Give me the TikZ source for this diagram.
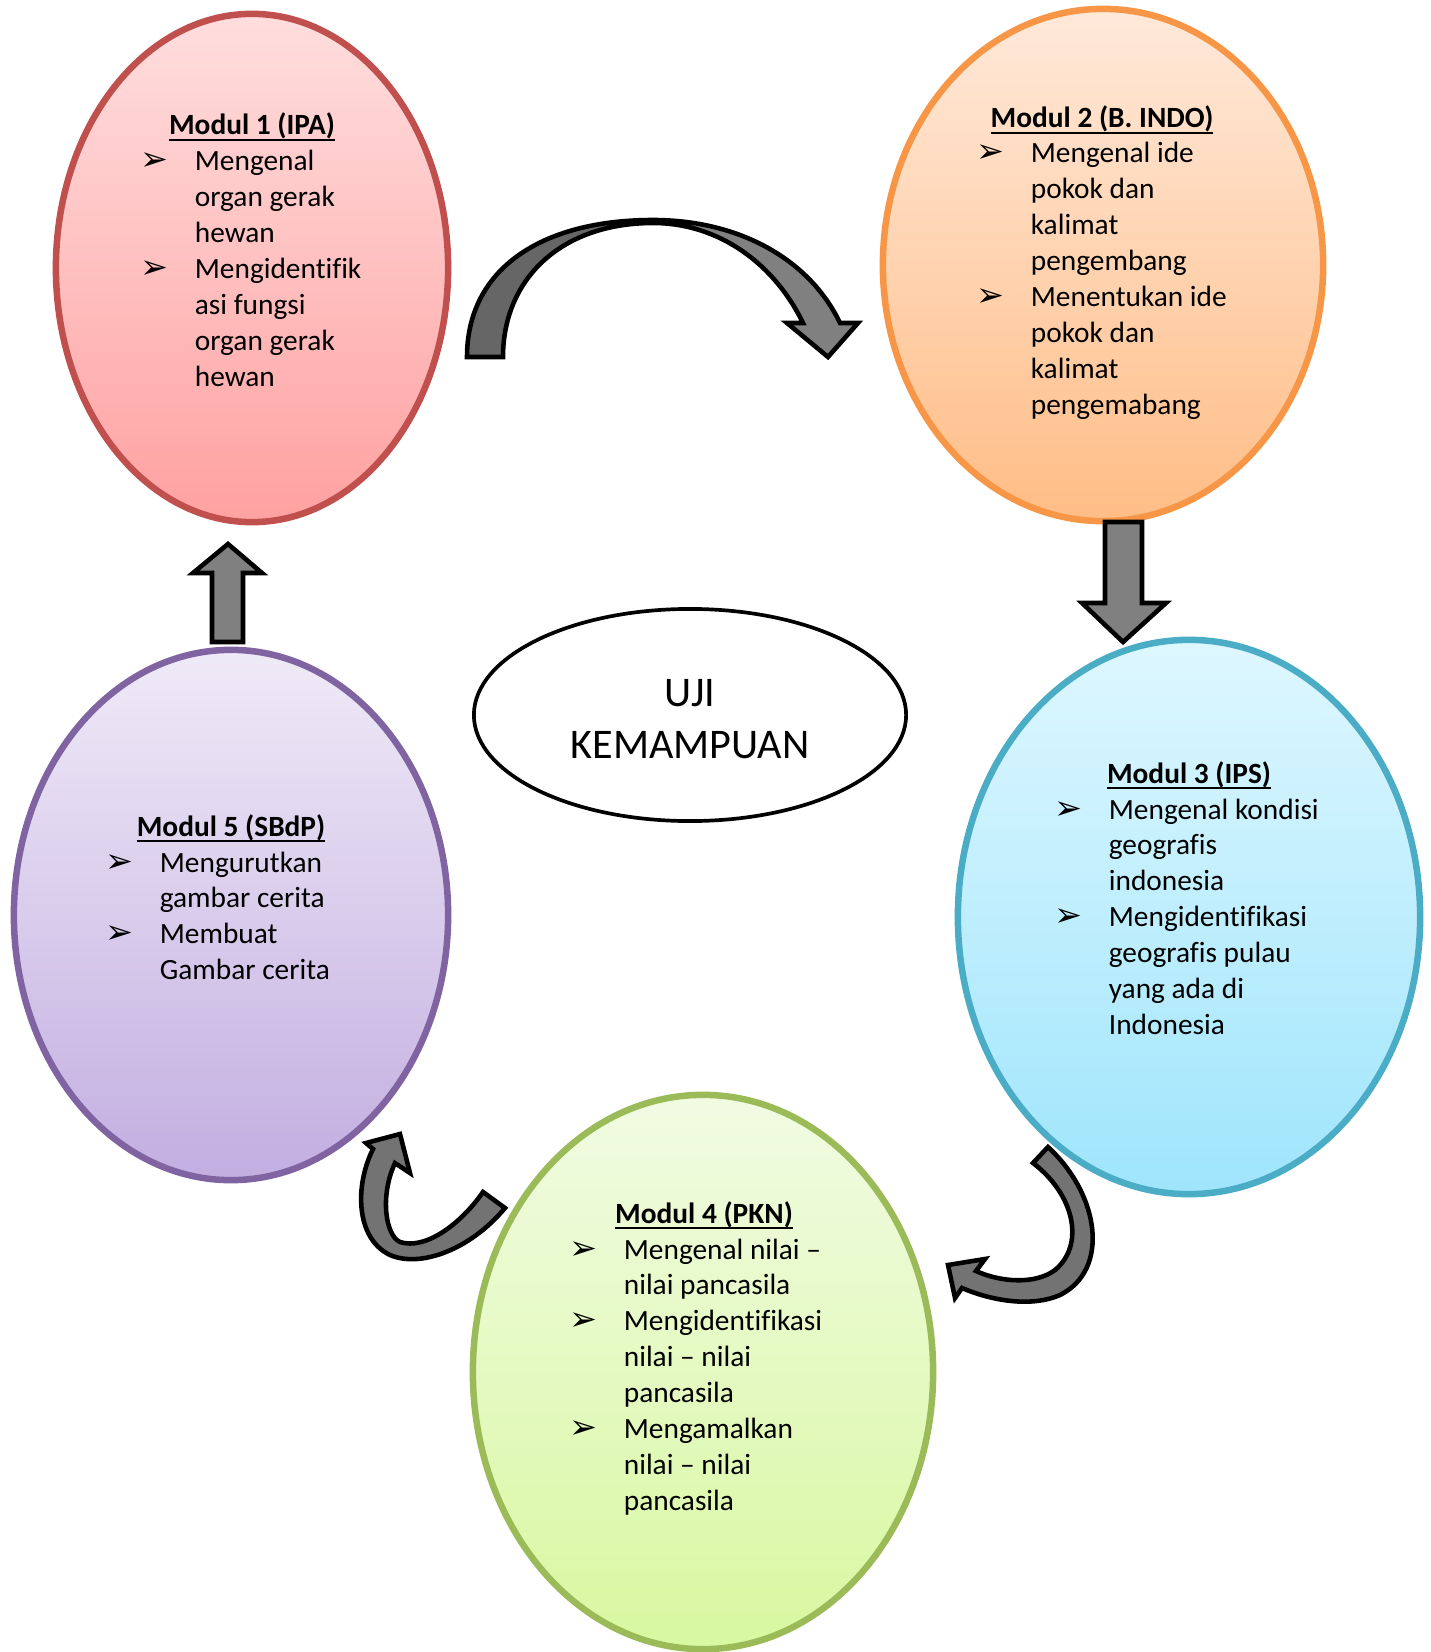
\documentclass[tikz,border=0pt]{standalone}
\usepackage{fontspec}
\setmainfont{Carlito}[Ligatures=NoCommon]
\newfontfamily\dingfont{DejaVu Sans}
\usetikzlibrary{shapes.geometric}

\definecolor{redline}{HTML}{C0504D}
\definecolor{redtop}{HTML}{FFDEDE}
\definecolor{redbot}{HTML}{FFA1A1}
\definecolor{orgline}{HTML}{F79646}
\definecolor{orgtop}{HTML}{FFE9DA}
\definecolor{orgbot}{HTML}{FFBD86}
\definecolor{bluline}{HTML}{4BACC6}
\definecolor{blutop}{HTML}{DEF7FF}
\definecolor{blubot}{HTML}{9FE5FC}
\definecolor{grnline}{HTML}{9BBB59}
\definecolor{grntop}{HTML}{F1FBE3}
\definecolor{grnbot}{HTML}{D8F8A0}
\definecolor{purline}{HTML}{8064A2}
\definecolor{purtop}{HTML}{EFEAF7}
\definecolor{purbot}{HTML}{C3AEE1}

\newcommand{\bul}{{\fontsize{9.5}{9.5}\selectfont\dingfont ➢}}
\newcommand{\modlist}[1]{\begin{tabular}[t]{@{}p{15.4pt}@{}l@{}}#1\end{tabular}}
\newcommand{\garisbawah}[1]{\setbox0\hbox{#1}\rlap{\rule[-1.6pt]{\wd0}{0.6pt}}\box0}

\begin{document}
\begin{tikzpicture}[x=0.01cm,y=-0.01cm,
        modul/.style n args={3}{ellipse,draw=#1,top color=#2,bottom color=#3,line width=1.85pt,inner sep=0pt},
        judul/.style={font=\fontsize{8.35}{10.2}\selectfont\bfseries,inner sep=0pt,anchor=base},
        isi/.style={font=\fontsize{8.35}{10.2}\selectfont,inner sep=0pt,anchor=base west},
        panah/.style={draw=black,line width=1.3pt}]
        \useasboundingbox (0,0) rectangle (1431,1652);

        \node[modul={redline}{redtop}{redbot},minimum width=3.92cm,minimum height=5.08cm] (m1) at (252,268) {};
        \node[modul={orgline}{orgtop}{orgbot},minimum width=4.40cm,minimum height=5.12cm] (m2) at (1103,265) {};
        \node[modul={bluline}{blutop}{blubot},minimum width=4.62cm,minimum height=5.54cm] (m3) at (1189,917) {};
        \node[modul={grnline}{grntop}{grnbot},minimum width=4.60cm,minimum height=5.54cm] (m4) at (703,1372) {};
        \node[modul={purline}{purtop}{purbot},minimum width=4.34cm,minimum height=5.30cm] (m5) at (231,915) {};
        \node[ellipse,draw,line width=1.05pt,inner sep=0pt,minimum width=4.32cm,minimum height=2.12cm] (uji) at (690,715) {};
        \node[font=\fontsize{12}{14.7}\selectfont,align=center,inner sep=0pt] (ujit) at (690,719) {UJI\\KEMAMPUAN};

        \node[judul] (j1) at (252,135) {\garisbawah{Modul 1 (IPA)}};
        \node[isi] (l1) at (140,171) {\modlist{\bul & Mengenal\\ & organ gerak\\ & hewan\\
            \bul & Mengidentifik\\ & asi fungsi\\ & organ gerak\\ & hewan}};
        \node[judul] (j2) at (1102,128) {\garisbawah{Modul 2 (B. INDO)}};
        \node[isi] (l2) at (976,163) {\modlist{\bul & Mengenal ide\\ & pokok dan\\ & kalimat\\ & pengembang\\
            \bul & Menentukan ide\\ & pokok dan\\ & kalimat\\ & pengemabang}};
        \node[judul] (j3) at (1189,783) {\garisbawah{Modul 3 (IPS)}};
        \node[isi] (l3) at (1054,819) {\modlist{\bul & Mengenal kondisi\\ & geografis\\ & indonesia\\
            \bul & Mengidentifikasi\\ & geografis pulau\\ & yang ada di\\ & Indonesia}};
        \node[judul] (j4) at (704,1223) {\garisbawah{Modul 4 (PKN)}};
        \node[isi] (l4) at (569,1259) {\modlist{\bul & Mengenal nilai –\\ & nilai pancasila\\
            \bul & Mengidentifikasi\\ & nilai – nilai\\ & pancasila\\
            \bul & Mengamalkan\\ & nilai – nilai\\ & pancasila}};
        \node[judul] (j5) at (231,836) {\garisbawah{Modul 5 (SBdP)}};
        \node[isi] (l5) at (105,872) {\modlist{\bul & Mengurutkan\\ & gambar cerita\\
            \bul & Membuat\\ & Gambar cerita}};

        \fill[black!60] (467,357) .. controls (467,270) and (540,220) .. (653,220) -- (653,223)
            .. controls (560,223) and (503,280) .. (503,357) -- cycle;
        \fill[black!50] (653,220) .. controls (740,220) and (810,260) .. (840,323) -- (858,323) -- (828,357)
            -- (787,323) -- (803,323) .. controls (775,265) and (720,223) .. (653,223) -- cycle;
        \draw[panah] (467,357) .. controls (467,270) and (540,220) .. (653,220)
            .. controls (740,220) and (810,260) .. (840,323) -- (858,323) -- (828,357) -- (787,323) -- (803,323)
            .. controls (775,265) and (720,223) .. (653,223) .. controls (560,223) and (503,280) .. (503,357) -- cycle;

        \draw[panah,fill=black!50] (1105,522) -- (1142,522) -- (1142,603) -- (1166,603) -- (1123,642)
            -- (1082,603) -- (1105,603) -- cycle;
        \draw[panah,fill=black!50] (212,642) -- (243,642) -- (243,573) -- (262,573) -- (228,544)
            -- (193,573) -- (212,573) -- cycle;

        \draw[panah,fill=black!55] (1033,1163) -- (1048,1147) .. controls (1100,1195) and (1110,1270) .. (1060,1295)
            .. controls (1030,1308) and (990,1300) .. (962,1288) -- (955,1298) -- (948,1265) -- (985,1259)
            -- (976,1271) .. controls (1000,1282) and (1035,1285) .. (1055,1270)
            .. controls (1085,1245) and (1075,1195) .. (1033,1163) -- cycle;
        \draw[panah,fill=black!55] (483,1192) -- (505,1208) .. controls (470,1250) and (420,1268) .. (390,1255)
            .. controls (355,1238) and (355,1185) .. (373,1149) -- (366,1143) -- (400,1134) -- (410,1173)
            -- (395,1163) .. controls (380,1195) and (385,1235) .. (400,1242)
            .. controls (425,1250) and (460,1225) .. (483,1192) -- cycle;
    \end{tikzpicture}
\end{document}
